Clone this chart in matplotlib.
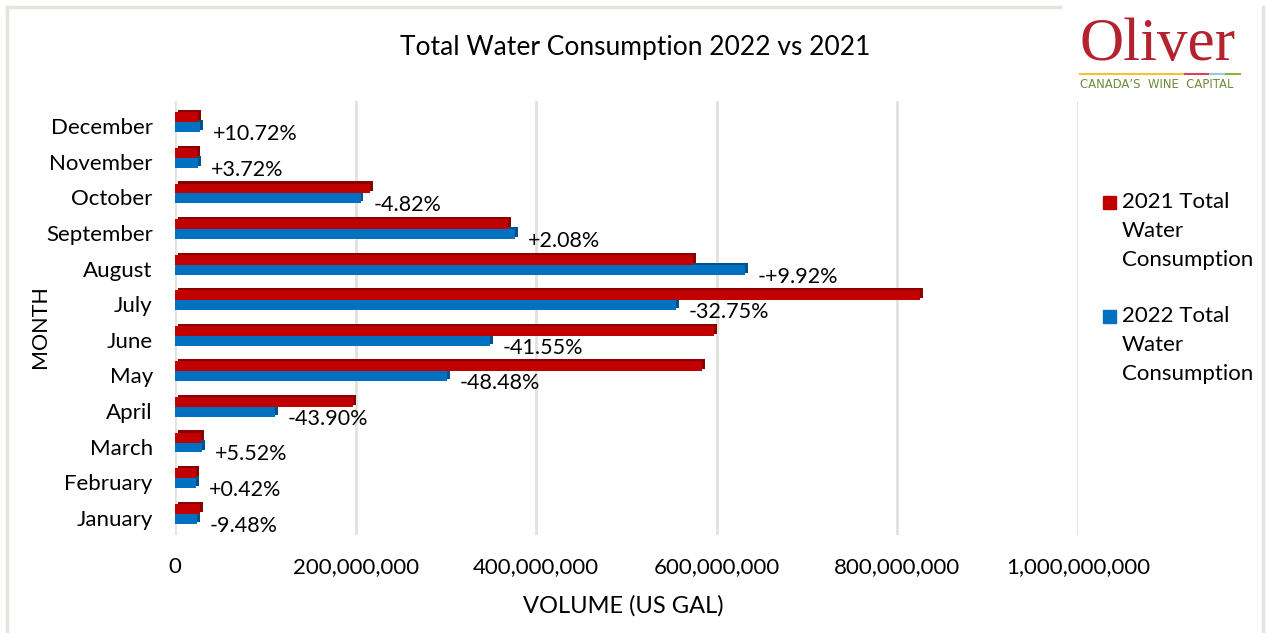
import numpy as np
import matplotlib
matplotlib.use('Agg')
import matplotlib.pyplot as plt
import matplotlib.patheffects as pe
from matplotlib.patches import Rectangle
from matplotlib.lines import Line2D
from matplotlib.ticker import FuncFormatter

plt.rcParams['font.family'] = ['Lato', 'DejaVu Sans']

months = ["January", "February", "March", "April", "May", "June",
          "July", "August", "September", "October", "November", "December"]
total_2021 = [27.5e6, 23.5e6, 28.8e6, 197e6, 584e6, 597e6,
              825e6, 574e6, 369e6, 216e6, 24.5e6, 25.5e6]
total_2022 = [24.9e6, 23.6e6, 30.4e6, 110.5e6, 301e6, 349e6,
              555e6, 631e6, 376.7e6, 205.6e6, 25.4e6, 28.2e6]
change_labels = ["-9.48%", "+0.42%", "+5.52%", "-43.90%", "-48.48%", "-41.55%",
                 "-32.75%", "-+9.92%", "+2.08%", "-4.82%", "+3.72%", "+10.72%"]
xticks = [0, 200e6, 400e6, 600e6, 800e6, 1000e6]

red = "#C00000"
red_dark = "#8a0000"
blue = "#0070C0"
blue_dark = "#00528c"
grid_col = "#e3e1db"
fs = 16

W, H = 1266, 633
fig = plt.figure(figsize=(W / 100, H / 100), dpi=100)
ax = fig.add_axes([175 / W, 1 - 535 / H, 903 / W, 434 / H])

y = np.arange(len(months))
h = 0.28

ax.barh(y - h / 2, total_2022, height=h, color=blue, zorder=3,
        path_effects=[pe.SimplePatchShadow(offset=(2, 1.5), shadow_rgbFace=blue_dark, alpha=1.0), pe.Normal()])
ax.barh(y + h / 2, total_2021, height=h, color=red, zorder=4,
        path_effects=[pe.SimplePatchShadow(offset=(2, 1.5), shadow_rgbFace=red_dark, alpha=1.0), pe.Normal()])

for i in range(len(months)):
    ax.annotate(change_labels[i], (total_2022[i], y[i] - h / 2), xytext=(9, -5),
                textcoords="offset points", ha="left", va="center", fontsize=15.5, zorder=5)

ax.set_xlim(0, 1e9)
ax.set_ylim(-0.6, len(months) - 0.4)
ax.set_xticks(xticks)
ax.xaxis.set_major_formatter(FuncFormatter(lambda v, p: "{:,.0f}".format(v)))
ax.set_yticks(y)
ax.set_yticklabels(months)
ax.tick_params(axis="x", length=0, pad=16, labelsize=fs)
ax.tick_params(axis="y", length=0, pad=16, labelsize=fs)
for lab in ax.get_yticklabels():
    lab.set_transform(lab.get_transform() + matplotlib.transforms.ScaledTranslation(0, -4 / 100, fig.dpi_scale_trans))
for s in ax.spines.values():
    s.set_visible(False)
ax.grid(axis="x", color=grid_col, linewidth=2, zorder=0)
ax.grid(axis="y", visible=False)

ax.set_xlabel("VOLUME (US GAL)", fontsize=17)
ax.xaxis.set_label_coords(0.496, -0.164)
ax.xaxis.label.set_va("center")
fig.text(40 / W, 1 - 327 / H, "MONTH", rotation=90, ha="center", va="center", fontsize=15.5)

fig.text(635 / W, 1 - 47 / H, "Total Water Consumption 2022 vs 2021", ha="center", va="center", fontsize=19)

# legend drawn by hand so the square sits on the first line
leg = [("2021 Total\nWater\nConsumption", red, 202), ("2022 Total\nWater\nConsumption", blue, 316)]
for text, col, ytop in leg:
    fig.patches.append(Rectangle((1103 / W, 1 - (ytop + 7) / H), 13 / W, 13 / H,
                                 transform=fig.transFigure, color=col))
    fig.text(1122 / W, 1 - (ytop - 10) / H, text, ha="left", va="top", fontsize=fs, linespacing=1.56)

# outer frame
bc = "#e6e3dc"
fig.lines.append(Line2D([7 / W, 7 / W], [0, 1 - 7 / H], transform=fig.transFigure, color=bc, lw=2.5))
fig.lines.append(Line2D([7 / W, 1060 / W], [1 - 7 / H, 1 - 7 / H], transform=fig.transFigure, color=bc, lw=2.5))
fig.lines.append(Line2D([1263 / W, 1263 / W], [0, 1 - 7 / H], transform=fig.transFigure, color=bc, lw=2.5))

# logo
fig.text(1157 / W, 1 - 45 / H, "Oliver", ha="center", va="center", fontsize=44,
         family="Liberation Serif", color="#b5222f")
seg = [(1080, 1185, "#f2c530"), (1185, 1210, "#d9435a"), (1210, 1226, "#8fd0e8"), (1226, 1240, "#8ab33f")]
for xa, xb, c in seg:
    fig.lines.append(Line2D([xa / W, xb / W], [1 - 74 / H, 1 - 74 / H], transform=fig.transFigure, color=c, lw=1.5))
fig.text(1157 / W, 1 - 85 / H, "CANADA\u2019S  WINE  CAPITAL", ha="center", va="center", fontsize=8.4,
         family="DejaVu Sans", color="#6e8a3a")

fig.savefig("out.png", dpi=100)
